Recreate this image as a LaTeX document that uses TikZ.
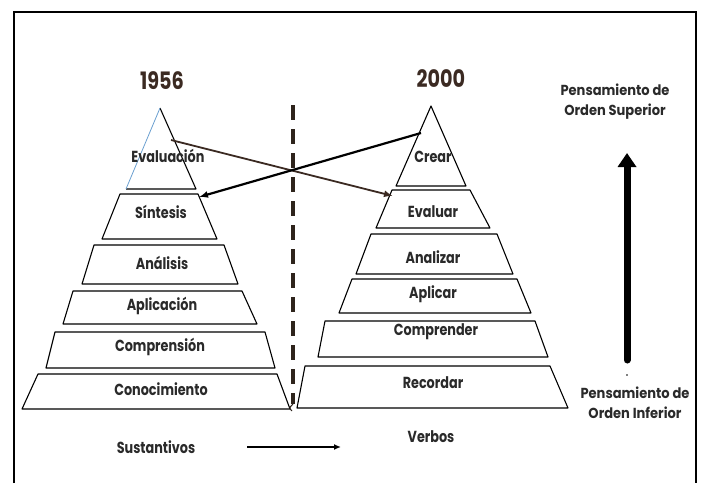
\documentclass[tikz,border=0pt]{standalone}
\usepackage{fontspec}
\setmainfont{Poppins}[FakeStretch=0.8]
\newfontfamily\sidefont{Poppins}[FakeStretch=0.9]
\usetikzlibrary{arrows.meta}
\definecolor{txt}{HTML}{2A2A2A}
\definecolor{titlecol}{HTML}{3B2A22}
\definecolor{dashcol}{HTML}{2E241C}
\definecolor{edgeblue}{HTML}{6A9FD0}
\begin{document}
\begin{tikzpicture}[x=1pt,y=-1pt,
  lvl/.style={draw=black,line width=1.1pt,line join=round},
  lab/.style={text=txt,font=\fontsize{16}{18}\selectfont\bfseries,inner sep=0pt},
  ttl/.style={text=titlecol,font=\fontsize{24}{26}\selectfont\bfseries,inner sep=0pt},
  side/.style={text=txt,font=\sidefont\fontsize{14.5}{20}\selectfont\bfseries,inner sep=0pt,align=center},
  cross/.style={line width=1.8pt,-{Latex[length=9pt,width=7pt]}}]
\useasboundingbox (0,0) rectangle (703,483);
% frame
\draw[line width=1.2pt] (14,483) -- (14,12) -- (696,12) -- (696,483);
% titles
\node[ttl] (t1956) at (162,81) {1956};
\node[ttl] (t2000) at (441,79) {2000};
% left pyramid
\draw[lvl] (160,108) -- (196,189) -- (126,189);
\draw[edgeblue,line width=0.8pt] (126,189) -- (160,108);
\draw[lvl] (120,194) -- (198,194) -- (217,239) -- (102,239) -- cycle;
\draw[lvl] (94,245) -- (224,245) -- (238,284) -- (82,284) -- cycle;
\draw[lvl] (73,291) -- (242,291) -- (257,324) -- (63,324) -- cycle;
\draw[lvl] (55,332) -- (265,332) -- (275,368) -- (46,368) -- cycle;
\draw[lvl] (38,374) -- (277,374) -- (290,409) -- (22,409) -- cycle;
\node[lab] (evaluacion) at (168,156) {Evaluación};
\node[lab] (sintesis) at (161,212) {Síntesis};
\node[lab] (analisis) at (162,263) {Análisis};
\node[lab] (aplicacion) at (162,306) {Aplicación};
\node[lab] (comprension) at (160,347) {Comprensión};
\node[lab] (conocimiento) at (161,389) {Conocimiento};
% right pyramid
\draw[lvl] (431,106) -- (466,186) -- (396,186) -- cycle;
\draw[lvl] (392,190) -- (470,190) -- (490,228) -- (376,228) -- cycle;
\draw[lvl] (371,234) -- (497,234) -- (513,274) -- (356,274) -- cycle;
\draw[lvl] (352,279) -- (517,279) -- (531,313) -- (339,313) -- cycle;
\draw[lvl] (325,321) -- (535,321) -- (548,357) -- (318,357) -- cycle;
\draw[lvl] (305,366) -- (550,366) -- (568,408) -- (297,408) -- cycle;
\node[lab] (crear) at (433,157) {Crear};
\node[lab] (evaluar) at (433,212) {Evaluar};
\node[lab] (analizar) at (433,257) {Analizar};
\node[lab] (aplicar) at (433,294) {Aplicar};
\node[lab] (comprender) at (436,332) {Comprender};
\node[lab] (recordar) at (433,383) {Recordar};
% dashed divider
\coordinate (dtop) at (293,105);
\coordinate (dbot) at (293,404);
\draw[dashcol,line width=3.6pt,dash pattern=on 15pt off 9pt] (dtop) -- (dbot);
\draw[dashcol,line width=1pt] (293,404) .. controls (289,408) .. (292,411);
% crossing arrows
\coordinate (a1s) at (171,140);
\coordinate (a1e) at (393,196);
\coordinate (a2s) at (421,133);
\coordinate (a2e) at (199,197);
\draw[cross,draw=titlecol] (a1s) -- (a1e);
\draw[cross,draw=black,line width=2.2pt] (a2s) -- (a2e);
% bottom labels
\node[lab] (sust) at (156,447) {Sustantivos};
\node[lab] (verbos) at (431,437) {Verbos};
\coordinate (ar1) at (247,447);
\coordinate (ar2) at (341,447);
\draw[line width=1.6pt,-{Latex[length=7pt,width=6pt]}] (ar1) -- (ar2);
% side labels and big arrow
\node[side] (sup) at (615,102) {Pensamiento de\\Orden Superior};
\node[side] (inf) at (635,403) {Pensamiento de\\Orden Inferior};
\coordinate (bigb) at (627,360);
\coordinate (bigt) at (627,153);
\draw[line width=7pt,line cap=round,-{Triangle[length=14pt,width=18pt]}] (bigb) -- (bigt);
\fill (627,375) circle (0.9pt);
\end{tikzpicture}
\end{document}
